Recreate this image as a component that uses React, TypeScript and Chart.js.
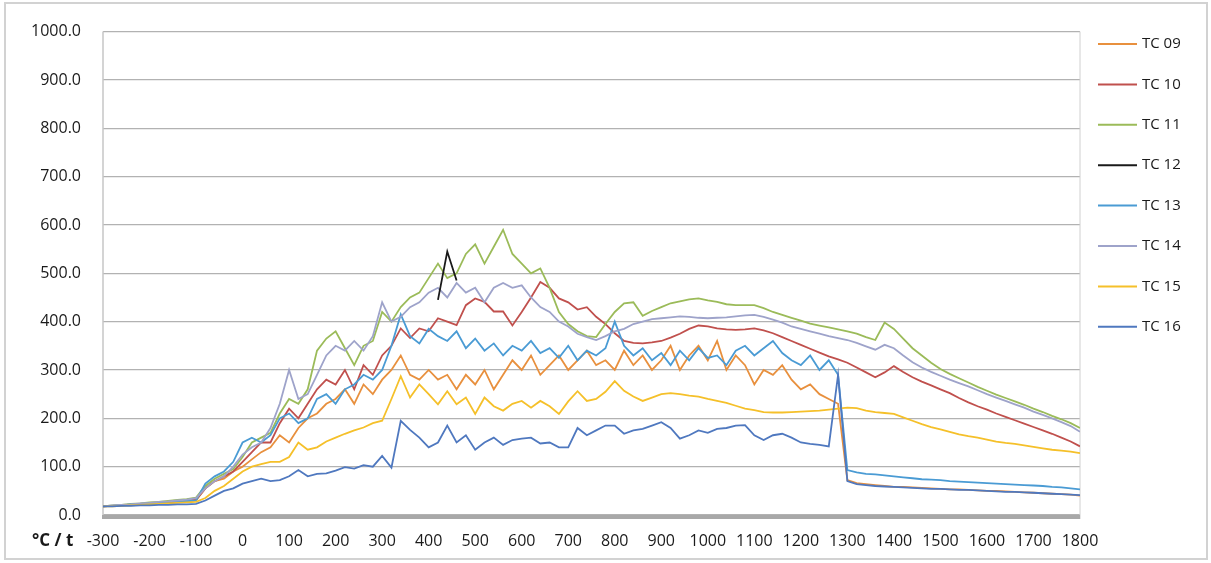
import { useEffect, useRef } from "react";
import { Chart, registerables } from "chart.js";

Chart.register(...registerables);

// time axis (t) of the samples
const times = [
  -300, -280, -260, -240, -220, -200, -180, -160, -140, -120, -100,
  -80, -60, -40, -20, 0,
  20, 40, 60, 80, 100, 120, 140, 160, 180, 200,
  220, 240, 260, 280, 300, 320, 340, 360, 380, 400,
  420, 440, 460, 480, 500, 520, 540, 560, 580, 600,
  620, 640, 660, 680, 700, 720, 740, 760, 780, 800,
  820, 840, 860, 880, 900, 920, 940, 960, 980, 1000,
  1020, 1040, 1060, 1080, 1100, 1120, 1140, 1160, 1180, 1200,
  1220, 1240, 1260, 1280, 1300, 1320, 1340, 1360, 1380, 1400,
  1420, 1440, 1460, 1480, 1500, 1520, 1540, 1560, 1580, 1600,
  1620, 1640, 1660, 1680, 1700, 1720, 1740, 1760, 1780, 1800,
];

const seriesLabels = ["TC 09", "TC 10", "TC 11", "TC 12", "TC 13", "TC 14", "TC 15", "TC 16"];
const seriesColors = ["#E8903E", "#C0504D", "#9BBB59", "#1A1A1A", "#4A9BD4", "#9EA3CA", "#F5C02A", "#4F78BF"];

const tc09 = [
  18, 19, 20, 21, 22, 24, 25, 26, 27, 28, 30,
  55, 70, 75, 90, 100,
  115, 130, 140, 165, 150, 180, 200, 210, 230, 240,
  260, 230, 270, 250, 280, 300, 330, 290, 280, 300,
  280, 290, 260, 290, 270, 300, 260, 290, 320, 300,
  330, 290, 310, 330, 300, 320, 340, 310, 320, 300,
  340, 310, 330, 300, 320, 350, 300, 330, 350, 320,
  360, 300, 330, 310, 270, 300, 290, 310, 280, 260,
  270, 250, 240, 230, 72, 66, 64, 62, 60, 58,
  58, 57, 56, 55, 54, 53, 53, 52, 51, 50,
  50, 49, 48, 47, 46, 45, 44, 43, 42, 40,
];

const tc10 = [
  18, 19, 20, 22, 23, 24, 26, 27, 28, 30, 32,
  55, 70, 80, 90, 110,
  130, 150, 150, 190, 220, 200, 230, 260, 280, 270,
  300, 260, 310, 290, 330, 350, 386, 366, 386, 380,
  407, 400, 393, 434, 448, 441, 421, 421, 392, 420,
  450, 482, 470, 448, 440, 425, 430, 410, 395, 376,
  360, 356, 355, 357, 360, 367, 375, 385, 392, 390,
  386, 384, 383, 384, 386, 382, 376, 368, 360, 352,
  344, 336, 328, 322, 315, 305, 295, 285, 295, 308,
  296, 285, 276, 268, 260, 252, 242, 233, 225, 218,
  210, 203, 196, 189, 182, 175, 168, 160, 152, 142,
];

const tc11 = [
  18, 20, 21, 23, 24, 26, 27, 29, 31, 33, 36,
  60, 75, 85, 95, 120,
  150, 160, 170, 210, 240, 230, 260, 340, 365, 380,
  345, 310, 350, 360, 420, 400, 430, 450, 460, 490,
  520, 490, 500, 540, 560, 520, 555, 590, 540, 520,
  500, 510, 470, 420, 395, 380, 370, 368, 395, 420,
  438, 440, 412, 422, 430, 438, 442, 446, 448, 444,
  441, 436, 434, 434, 434, 428, 420, 414, 408, 402,
  396, 392, 388, 384, 380, 375, 368, 362, 398, 385,
  365, 345, 330, 315, 302, 292, 283, 274, 265, 257,
  249, 242, 235, 228, 220, 213, 205, 198, 190, 180,
];

const tc12 = [
  null, null, null, null, null, null, null, null, null, null, null,
  null, null, null, null, null,
  null, null, null, null, null, null, null, null, null, null,
  null, null, null, null, null, null, null, null, null, null,
  445, 545, 485, null, null, null, null, null, null, null,
  null, null, null, null, null, null, null, null, null, null,
  null, null, null, null, null, null, null, null, null, null,
  null, null, null, null, null, null, null, null, null, null,
  null, null, null, null, null, null, null, null, null, null,
  null, null, null, null, null, null, null, null, null, null,
  null, null, null, null, null, null, null, null, null, null,
];

const tc13 = [
  18, 19, 20, 22, 23, 24, 25, 27, 28, 29, 30,
  65, 80, 90, 110, 150,
  160, 150, 165, 200, 210, 190, 200, 240, 250, 230,
  260, 270, 290, 280, 300, 350, 415, 370, 355, 385,
  370, 360, 380, 345, 365, 340, 355, 330, 350, 340,
  360, 335, 345, 325, 350, 320, 340, 330, 345, 400,
  350, 330, 345, 320, 335, 310, 340, 320, 345, 325,
  330, 310, 340, 350, 330, 345, 360, 335, 320, 310,
  330, 300, 320, 290, 93, 88, 85, 84, 82, 80,
  78, 76, 74, 73, 72, 70, 69, 68, 67, 66,
  65, 64, 63, 62, 61, 60, 58, 57, 55, 53,
];

const tc14 = [
  18, 20, 21, 22, 24, 25, 27, 28, 30, 32, 35,
  55, 70, 80, 100, 125,
  140, 150, 180, 230, 300, 240, 250, 290, 330, 350,
  340, 360, 340, 370, 440, 400, 410, 430, 440, 460,
  470, 450, 480, 460, 470, 440, 470, 480, 470, 475,
  450, 430, 420, 400, 390, 375, 368, 362, 370, 380,
  385, 395, 400, 405, 407, 409, 411, 410, 408, 407,
  408, 409, 411, 413, 414, 410, 404, 398, 390, 385,
  380, 375, 370, 366, 362, 356, 349, 342, 352, 345,
  330, 316, 305, 296, 288, 280, 273, 266, 258, 250,
  243, 236, 229, 222, 214, 207, 200, 192, 184, 172,
];

const tc15 = [
  18, 18, 19, 20, 21, 22, 23, 24, 25, 26, 27,
  35, 50, 60, 75, 90,
  100, 105, 110, 110, 120, 150, 135, 140, 152, 160,
  168, 175, 181, 190, 195, 240, 287, 243, 270, 250,
  229, 256, 229, 243, 209, 243, 225, 216, 230, 236,
  222, 236, 225, 209, 235, 256, 236, 240, 255, 277,
  257, 245, 236, 243, 250, 252, 250, 247, 245, 240,
  236, 232, 226, 220, 217, 213, 212, 212, 213, 214,
  215, 216, 218, 220, 222, 221, 216, 213, 211, 209,
  202, 195, 188, 182, 177, 172, 167, 163, 160, 156,
  152, 149, 147, 144, 141, 138, 135, 133, 131, 128,
];

const tc16 = [
  18, 18, 19, 19, 20, 20, 21, 21, 22, 22, 23,
  30, 40, 50, 55, 65,
  70, 75, 70, 72, 80, 93, 80, 85, 86, 92,
  99, 96, 103, 100, 122, 98, 195, 176, 160, 140,
  150, 185, 150, 165, 135, 150, 160, 145, 155, 158,
  160, 148, 150, 140, 140, 180, 165, 175, 185, 185,
  168, 175, 178, 185, 192, 180, 158, 165, 175, 170,
  178, 180, 185, 186, 165, 155, 165, 168, 160, 150,
  147, 145, 142, 290, 70, 64, 62, 60, 59, 58,
  57, 56, 55, 54, 54, 53, 52, 52, 51, 50,
  49, 48, 48, 47, 46, 45, 44, 43, 42, 41,
];

const xTickStep = 100;
const yTickStep = 100;
const unitLabel = "°C / t";

const FONT = "'Open Sans', 'DejaVu Sans', sans-serif";

export default function App() {
  const ref = useRef<HTMLCanvasElement>(null);

  useEffect(() => {
    const canvas = ref.current;
    if (!canvas) return;
    const series = [tc09, tc10, tc11, tc12, tc13, tc14, tc15, tc16];
    const datasets = series.map((s, i) => ({
      label: seriesLabels[i],
      data: times.map((t, j) => ({ x: t, y: s[j] as number | null })),
      borderColor: seriesColors[i],
      backgroundColor: seriesColors[i],
      borderWidth: 1.8,
      pointRadius: 0,
      pointHoverRadius: 0,
      tension: 0,
      fill: false,
      spanGaps: false,
      order: i === 3 ? -1 : 7 - i,
    }));

    const framePlugin = {
      id: "framePlugin",
      beforeDraw(chart: any) {
        const ctx = chart.ctx;
        ctx.save();
        ctx.fillStyle = "#ffffff";
        ctx.fillRect(0, 0, chart.width, chart.height);
        ctx.strokeStyle = "#d2d2d2";
        ctx.lineWidth = 2;
        ctx.strokeRect(5, 3, 1202, 556);
        ctx.restore();
      },
      beforeDatasetsDraw(chart: any) {
        const { ctx, chartArea } = chart;
        const { left, right, top, bottom } = chartArea;
        ctx.save();
        ctx.strokeStyle = "#c6c6c6";
        ctx.lineWidth = 1.5;
        ctx.beginPath();
        ctx.moveTo(left, top);
        ctx.lineTo(left, bottom);
        ctx.stroke();
        ctx.strokeStyle = "#d0d0d0";
        ctx.lineWidth = 1;
        ctx.beginPath();
        ctx.moveTo(right, top);
        ctx.lineTo(right, bottom + 4);
        ctx.stroke();
        ctx.fillStyle = "#a8a8a8";
        ctx.fillRect(left - 1, bottom, right - left + 1, 4);
        ctx.restore();
      },
      afterDraw(chart: any) {
        const ctx = chart.ctx;
        ctx.save();
        ctx.fillStyle = "#1a1a1a";
        ctx.font = `bold 17px ${FONT}`;
        ctx.textAlign = "left";
        ctx.textBaseline = "middle";
        ctx.fillText(unitLabel, 32, 541);
        ctx.font = `15px ${FONT}`;
        chart.data.datasets.forEach((ds: any, i: number) => {
          const y = 44 + i * 40.4;
          ctx.strokeStyle = ds.borderColor;
          ctx.lineWidth = 2;
          ctx.beginPath();
          ctx.moveTo(1098, y);
          ctx.lineTo(1137, y);
          ctx.stroke();
          ctx.fillStyle = "#1a1a1a";
          ctx.fillText(ds.label, 1142, y);
        });
        ctx.restore();
      },
    };

    const chart = new Chart(canvas, {
      type: "line",
      data: { datasets: datasets as any },
      options: {
        animation: false,
        responsive: false,
        events: [],
        layout: { padding: { left: 0, right: 131, top: 26, bottom: 0 } },
        plugins: {
          legend: { display: false },
          tooltip: { enabled: false },
        },
        scales: {
          x: {
            type: "linear",
            min: -300,
            max: 1800,
            afterFit: (s: any) => {
              s.height = 48;
            },
            ticks: {
              stepSize: xTickStep,
              autoSkip: false,
              maxRotation: 0,
              minRotation: 0,
              padding: 17,
              color: "#1a1a1a",
              font: { family: FONT, size: 16 },
              callback: (v: any) => String(Math.round(Number(v))),
            },
            grid: { display: false, drawTicks: false },
            border: { display: false },
          },
          y: {
            min: 0,
            max: 1000,
            afterFit: (s: any) => {
              s.width = 103;
            },
            ticks: {
              stepSize: yTickStep,
              padding: 22,
              color: "#1a1a1a",
              font: { family: FONT, size: 16 },
              callback: (v: any) => Number(v).toFixed(1),
            },
            grid: { color: "#b2b2b2", lineWidth: 1.2, drawTicks: false },
            border: { display: false },
          },
        },
      },
      plugins: [framePlugin],
    });
    return () => chart.destroy();
  }, []);

  return (
    <div style={{ position: "absolute", left: 0, top: 0, width: 1211, height: 563, background: "#fff" }}>
      <canvas ref={ref} width={1211} height={563} style={{ display: "block", width: 1211, height: 563 }} />
    </div>
  );
}
